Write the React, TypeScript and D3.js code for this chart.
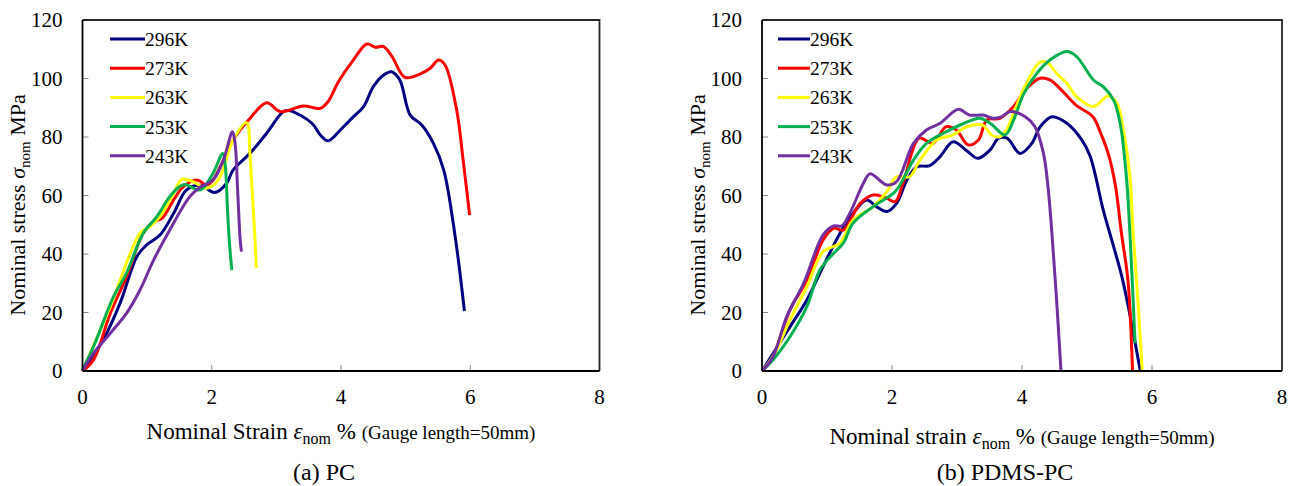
import React from "react";
import * as d3 from "d3";

type Pt = [number, number];

const seriesNames = ["296K", "273K", "263K", "253K", "243K"];
const seriesColors = ["#000080", "#FF0000", "#FFFF00", "#00B050", "#7030A0"];
const xTicks = [0, 2, 4, 6, 8];
const yTicks = [0, 20, 40, 60, 80, 100, 120];

// (a) PC
const pc296: Pt[] = [[0,0],[0.32,10.6],[0.58,23.1],[0.84,39.1],[0.99,43.1],[1.2,46.5],[1.41,53.9],[1.61,61.9],[1.82,63.5],[2.05,61],[2.23,64.2],[2.33,68.7],[2.59,74.4],[2.85,81.3],[3.11,88.7],[3.21,89],[3.55,84.7],[3.68,80.7],[3.8,78.7],[3.99,82.4],[4.19,86.9],[4.35,90.4],[4.5,97.2],[4.66,101.2],[4.78,102.3],[4.91,99.5],[5.07,87.5],[5.25,84.1],[5.43,77.8],[5.59,68.7],[5.77,45.4],[5.91,20.5]];
const pc273: Pt[] = [[0,0],[0.17,3.8],[0.43,19.7],[0.68,32.2],[0.94,47.1],[1.1,51],[1.23,52.2],[1.41,58.5],[1.56,63],[1.77,65.3],[1.92,63.6],[2.02,65.3],[2.18,72.1],[2.33,79],[2.57,85.8],[2.85,91.7],[3.06,88.7],[3.42,90.6],[3.68,89.8],[3.8,92.1],[3.96,98.9],[4.19,106.3],[4.4,111.8],[4.53,110.7],[4.66,110.9],[4.79,107.5],[4.99,100.4],[5.22,101.5],[5.38,103.5],[5.51,106.3],[5.61,104.6],[5.79,89.2],[5.89,72.1],[5.99,53.3]];
const pc263: Pt[] = [[0,0],[0.43,22],[0.89,47.1],[1.04,49.3],[1.2,52.8],[1.41,60.7],[1.54,65.5],[1.71,64.7],[1.92,62.5],[2.1,65.3],[2.33,79],[2.54,84.9],[2.59,74.5],[2.64,56],[2.67,44.8],[2.69,35.2]];
const pc253: Pt[] = [[0,0.3],[0.17,8.3],[0.48,25.4],[0.68,33.4],[0.94,47.1],[1.15,52.8],[1.35,59.6],[1.51,63.2],[1.59,63.8],[1.82,61.9],[2.02,67.6],[2.17,74.4],[2.21,70],[2.24,57],[2.27,45],[2.31,34.5]];
const pc243: Pt[] = [[0,0],[0.17,6],[0.43,12.9],[0.68,19.7],[0.89,27.7],[1.1,37.9],[1.35,48.2],[1.66,59.6],[1.82,62.8],[2.02,65.3],[2.18,72.1],[2.32,81.8],[2.36,78],[2.4,62],[2.44,44.8],[2.46,40.8]];

// (b) PDMS-PC
const pd296: Pt[] = [[0,0],[0.17,6],[0.43,15.1],[0.69,24.3],[0.94,35.7],[1.2,47.1],[1.4,53.9],[1.61,58.5],[1.76,56.2],[1.92,54.5],[2.07,57.3],[2.23,65.3],[2.38,69.8],[2.58,70.2],[2.74,73.3],[2.94,78.4],[3.15,75.3],[3.32,72.7],[3.51,75.6],[3.64,79.6],[3.77,79.6],[3.97,74.4],[4.15,77.8],[4.28,83.5],[4.46,86.9],[4.69,84.7],[4.92,79],[5.05,73.3],[5.25,55],[5.38,44.8],[5.55,31],[5.82,0]];
const pd273: Pt[] = [[0,0],[0.17,5],[0.43,20.9],[0.69,31.1],[0.94,44.8],[1.1,48.8],[1.25,48.2],[1.51,57.3],[1.71,60.2],[1.92,59],[2.05,57.9],[2.17,64.2],[2.42,79.6],[2.63,77.8],[2.83,83.5],[2.99,82.4],[3.17,77.3],[3.33,79],[3.46,85.8],[3.66,86.4],[3.87,90.4],[4.07,96.6],[4.28,100.1],[4.43,99.5],[4.63,95.5],[4.83,90.9],[5.09,86.9],[5.21,81.3],[5.34,73.3],[5.44,63],[5.53,47.1],[5.63,31],[5.7,0]];
const pd263: Pt[] = [[0,0],[0.17,5],[0.43,17.4],[0.69,28.8],[0.94,40.8],[1.2,43.7],[1.4,51.6],[1.71,56.2],[1.92,61.3],[2.07,66.4],[2.27,66.4],[2.43,72.1],[2.69,79],[2.94,80.7],[3.15,83.5],[3.4,84],[3.53,80.7],[3.66,80.1],[3.76,82.4],[3.91,90.4],[4.07,98.4],[4.28,105.7],[4.4,105.2],[4.53,101.8],[4.69,98.4],[4.84,93.8],[5.1,90.4],[5.33,94],[5.46,91.5],[5.56,82.4],[5.66,66.4],[5.71,47.1],[5.78,25],[5.85,0]];
const pd253: Pt[] = [[0,0],[0.17,3.8],[0.43,11.7],[0.69,22],[0.89,34.5],[1.1,40.2],[1.25,43.7],[1.4,50.5],[1.71,56.2],[2.02,60.7],[2.12,63.5],[2.33,72.1],[2.53,77.8],[2.79,81.3],[3.05,84.1],[3.35,86.4],[3.51,84.7],[3.74,80.7],[3.87,85.8],[4.03,94.9],[4.23,101.8],[4.43,106.3],[4.69,109.2],[4.84,107.5],[5.1,99.5],[5.25,97.2],[5.41,92.6],[5.51,84.7],[5.61,65.3],[5.66,47.1],[5.74,9.5]];
const pd243: Pt[] = [[0,0],[0.17,4.9],[0.38,18.6],[0.64,30],[0.94,46.5],[1.1,49.6],[1.23,49.6],[1.35,53.9],[1.56,64.2],[1.66,67.4],[1.92,63.6],[2.07,64.7],[2.33,77.8],[2.53,82.4],[2.74,84.7],[3.02,89.5],[3.19,87.5],[3.4,87.5],[3.55,86.4],[3.68,86.9],[3.82,88.7],[4.05,86.9],[4.2,83.5],[4.33,74.4],[4.4,63],[4.46,47.1],[4.53,25],[4.6,0]];

const FONT = '"Liberation Serif", "DejaVu Serif", "Times New Roman", serif';

interface PanelProps {
  left: number;
  right: number;
  series: Pt[][];
  strainWord: string;
  caption: string;
  yTitleX: number;
  xTitleY: number;
  legendX: number;
  legendTextX: number;
}

function Panel(p: PanelProps) {
  const top = 20;
  const bottom = 371;
  const x = d3.scaleLinear().domain([0, 8]).range([p.left, p.right]);
  const y = d3.scaleLinear().domain([0, 120]).range([bottom, top]);
  const line = d3
    .line<Pt>()
    .x((d) => x(d[0]))
    .y((d) => y(d[1]))
    .curve(d3.curveCatmullRom.alpha(0.5));
  const cx = (p.left + p.right) / 2;
  const yMid = 205;
  return (
    <g style={{ fontFamily: FONT }} fill="#000">
      <path
        d={`M${p.left},${top}H${p.right}V${bottom}`}
        fill="none"
        stroke="#262626"
        strokeWidth={1.8}
      />
      {yTicks.slice(1, -1).map((t) => (
        <line key={"yt" + t} x1={p.left} x2={p.left + 6} y1={y(t)} y2={y(t)} stroke="#888" strokeWidth={1} />
      ))}
      {xTicks.slice(1, -1).map((t) => (
        <line key={"xt" + t} x1={x(t)} x2={x(t)} y1={bottom} y2={bottom - 6} stroke="#888" strokeWidth={1} />
      ))}
      {p.series.map((s, i) => (
        <path
          key={"s" + i}
          d={line(s) || ""}
          fill="none"
          stroke={seriesColors[i]}
          strokeWidth={3}
          strokeLinejoin="round"
          strokeLinecap="butt"
        />
      ))}
      <line x1={p.left} x2={p.left} y1={top} y2={bottom} stroke="#000" strokeWidth={1.8} />
      <line x1={p.left} x2={p.right} y1={bottom} y2={bottom} stroke="#000" strokeWidth={1.8} />
      {yTicks.map((t) => (
        <text key={"yl" + t} x={p.left - 20} y={y(t) + 7} textAnchor="end" fontSize={21}>
          {t}
        </text>
      ))}
      {xTicks.map((t) => (
        <text key={"xl" + t} x={x(t)} y={404} textAnchor="middle" fontSize={21}>
          {t}
        </text>
      ))}
      {seriesNames.map((n, i) => {
        const ly = 39 + i * 29.2;
        return (
          <g key={"lg" + i}>
            <line x1={p.legendX} x2={p.legendTextX} y1={ly} y2={ly} stroke={seriesColors[i]} strokeWidth={3} />
            <text x={p.legendTextX} y={ly + 7} fontSize={19.5}>
              {n}
            </text>
          </g>
        );
      })}
      <text
        transform={`translate(${p.yTitleX},${yMid}) rotate(-90)`}
        textAnchor="middle"
        fontSize={22}
        y={7}
      >
        Nominal stress <tspan fontStyle="italic">σ</tspan>
        <tspan fontSize={15} dy={5}>nom</tspan>
        <tspan dy={-5}> MPa</tspan>
      </text>
      <text x={cx} y={p.xTitleY} textAnchor="middle" fontSize={23}>
        Nominal {p.strainWord} <tspan fontStyle="italic">ε</tspan>
        <tspan fontSize={16} dy={5}>nom</tspan>
        <tspan dy={-5}> % </tspan>
        <tspan fontSize={19}>(Gauge length=50mm)</tspan>
      </text>
      <text x={cx - 17} y={480} textAnchor="middle" fontSize={24}>
        {p.caption}
      </text>
    </g>
  );
}

export default function App() {
  return (
    <svg
      width={1297}
      height={486}
      style={{ position: "absolute", left: 0, top: 0, background: "#fff" }}
    >
      <rect width={1297} height={486} fill="#fff" />
      <Panel
        left={82.5}
        right={599.5}
        series={[pc296, pc273, pc263, pc253, pc243]}
        strainWord="Strain"
        caption="(a) PC"
        yTitleX={18}
        xTitleY={439}
        legendX={110}
        legendTextX={145}
      />
      <Panel
        left={762}
        right={1282}
        series={[pd296, pd273, pd263, pd253, pd243]}
        strainWord="strain"
        caption="(b) PDMS-PC"
        yTitleX={698}
        xTitleY={444}
        legendX={778}
        legendTextX={810}
      />
    </svg>
  );
}
